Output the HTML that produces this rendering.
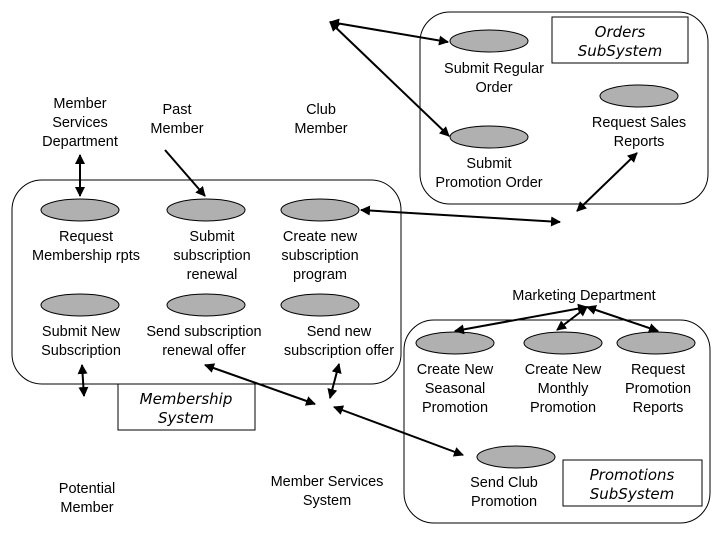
<!DOCTYPE html>
<html><head><style>
html,body{margin:0;padding:0;background:#fff;}
svg{display:block;}
</style></head><body>
<svg width="720" height="540" viewBox="0 0 720 540" xmlns="http://www.w3.org/2000/svg" font-family="Liberation Sans, Arial, Helvetica, sans-serif" font-size="14.5">
<defs>
<marker id="a" viewBox="0 0 10 10" refX="9" refY="5" markerWidth="5" markerHeight="5" orient="auto-start-reverse"><path d="M0,0 L10,5 L0,10 z" fill="#000"/></marker>
</defs>
<g fill="none" stroke="#000" stroke-width="1">
<rect x="12" y="180" width="389" height="204" rx="30"/>
<rect x="420" y="12" width="288" height="192" rx="30"/>
<rect x="404" y="320" width="306" height="203" rx="30"/>
</g>
<g fill="#fff" stroke="#000">
<rect x="118" y="384" width="137" height="46"/>
<rect x="552" y="17" width="136" height="46"/>
<rect x="563" y="460" width="139" height="46"/>
</g>
<g font-family="DejaVu Sans, sans-serif" font-style="italic" font-size="15" text-anchor="middle">
<text x="186" y="404">Membership</text>
<text x="186" y="423">System</text>
<text x="620" y="37">Orders</text>
<text x="620" y="56">SubSystem</text>
<text x="632" y="480">Promotions</text>
<text x="632" y="499">SubSystem</text>
</g>
<g fill="#b0b0b0" stroke="#000">
<ellipse cx="80" cy="210" rx="39" ry="11"/>
<ellipse cx="206" cy="210" rx="39" ry="11"/>
<ellipse cx="320" cy="210" rx="39" ry="11"/>
<ellipse cx="80" cy="305" rx="39" ry="11"/>
<ellipse cx="206" cy="305" rx="39" ry="11"/>
<ellipse cx="320" cy="305" rx="39" ry="11"/>
<ellipse cx="489" cy="41" rx="39" ry="11"/>
<ellipse cx="639" cy="96" rx="39" ry="11"/>
<ellipse cx="489" cy="137" rx="39" ry="11"/>
<ellipse cx="455" cy="343" rx="39" ry="11"/>
<ellipse cx="563" cy="343" rx="39" ry="11"/>
<ellipse cx="656" cy="343" rx="39" ry="11"/>
<ellipse cx="516" cy="457" rx="39" ry="11"/>
</g>
<g stroke="#000" stroke-width="2" fill="none" marker-start="url(#a)" marker-end="url(#a)">
<line x1="80" y1="155" x2="80" y2="196"/>
<line x1="330" y1="22" x2="448" y2="42"/>
<line x1="330" y1="22" x2="449" y2="136"/>
<line x1="361" y1="210" x2="560" y2="222"/>
<line x1="577" y1="211" x2="637" y2="153"/>
<line x1="82" y1="365" x2="84" y2="396"/>
<line x1="205" y1="365" x2="315" y2="404"/>
<line x1="339" y1="364" x2="330" y2="398"/>
<line x1="334" y1="407" x2="463" y2="455"/>
<line x1="587" y1="307" x2="455" y2="331"/>
<line x1="587" y1="307" x2="557" y2="330"/>
<line x1="587" y1="307" x2="658" y2="331"/>
</g>
<line x1="165" y1="150" x2="205" y2="196" stroke="#000" stroke-width="2" marker-end="url(#a)"/>
<g text-anchor="middle">
<text x="80" y="108">Member</text><text x="80" y="127">Services</text><text x="80" y="146">Department</text>
<text x="177" y="114">Past</text><text x="177" y="133">Member</text>
<text x="321" y="114">Club</text><text x="321" y="133">Member</text>
<text x="494" y="73">Submit Regular</text><text x="494" y="92">Order</text>
<text x="639" y="127">Request Sales</text><text x="639" y="146">Reports</text>
<text x="489" y="168">Submit</text><text x="489" y="187">Promotion Order</text>
<text x="86" y="241">Request</text><text x="86" y="260">Membership rpts</text>
<text x="212" y="241">Submit</text><text x="212" y="260">subscription</text><text x="212" y="279">renewal</text>
<text x="320" y="241">Create new</text><text x="320" y="260">subscription</text><text x="320" y="279">program</text>
<text x="81" y="336">Submit New</text><text x="81" y="355">Subscription</text>
<text x="204" y="336">Send subscription</text><text x="204" y="355">renewal offer</text>
<text x="339" y="336">Send new</text><text x="339" y="355">subscription offer</text>
<text x="584" y="300">Marketing Department</text>
<text x="455" y="374">Create New</text><text x="455" y="393">Seasonal</text><text x="455" y="412">Promotion</text>
<text x="563" y="374">Create New</text><text x="563" y="393">Monthly</text><text x="563" y="412">Promotion</text>
<text x="658" y="374">Request</text><text x="658" y="393">Promotion</text><text x="658" y="412">Reports</text>
<text x="504" y="487">Send Club</text><text x="504" y="506">Promotion</text>
<text x="87" y="493">Potential</text><text x="87" y="512">Member</text>
<text x="327" y="486">Member Services</text><text x="327" y="505">System</text>
</g>
</svg>
</body></html>
